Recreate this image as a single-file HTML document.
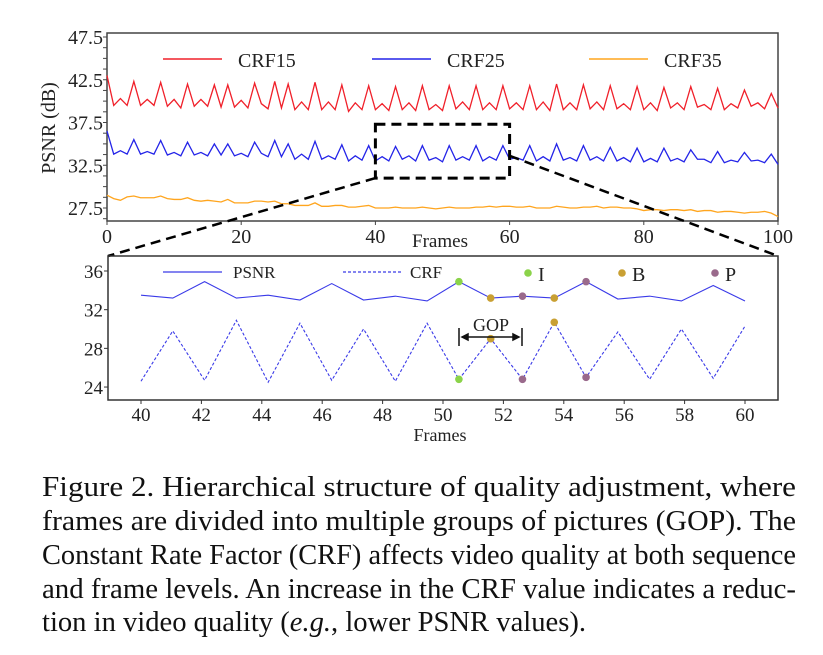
<!DOCTYPE html>
<html><head><meta charset="utf-8"><style>
html,body{margin:0;padding:0;background:#fff;}
svg{display:block;font-family:"Liberation Serif",serif;}
</style></head><body>
<svg id="fig" width="823" height="655" viewBox="0 0 823 655">
<g id="top"></g>
<g id="zoomlines"></g>
<g id="bottom"></g>
<g font-size="28" fill="#111">
<text x="42" y="496" textLength="754" lengthAdjust="spacingAndGlyphs">Figure 2.  Hierarchical structure of quality adjustment, where</text>
<text x="42" y="530" textLength="754" lengthAdjust="spacingAndGlyphs">frames are divided into multiple groups of pictures (GOP). The</text>
<text x="42" y="564" textLength="754" lengthAdjust="spacingAndGlyphs">Constant Rate Factor (CRF) affects video quality at both sequence</text>
<text x="42" y="598" textLength="754" lengthAdjust="spacingAndGlyphs">and frame levels. An increase in the CRF value indicates a reduc-</text>
<text x="42" y="631" textLength="544" lengthAdjust="spacingAndGlyphs">tion in video quality (<tspan font-style="italic">e.g.</tspan>, lower PSNR values).</text>
</g>
</svg>
<script>
const crf15 = [43.0,39.5,40.3,39.5,42.3,39.5,40.2,39.5,42.2,39.4,40.2,39.2,42.0,39.4,40.2,39.4,41.9,39.3,41.9,39.3,40.1,39.2,42.1,39.7,39.1,42.3,39.2,42.0,39.0,39.9,39.0,42.2,39.0,39.9,39.0,41.9,38.8,39.8,39.0,41.8,39.0,39.7,38.9,41.7,39.0,39.8,38.9,41.8,39.0,39.6,38.9,41.8,39.1,39.9,39.0,41.8,39.0,39.8,39.0,41.8,39.1,39.8,39.0,41.8,39.0,39.9,38.9,42.0,39.0,39.8,39.0,41.9,39.1,39.9,39.0,41.8,39.1,39.7,39.0,41.7,39.0,39.8,38.9,41.6,39.2,39.8,39.0,41.7,39.3,39.6,39.0,41.5,39.0,39.7,39.2,41.3,39.4,39.8,39.1,40.9,39.2];
const crf25 = [36.5,33.8,34.2,33.8,35.5,33.8,34.1,33.8,35.4,33.7,34.0,33.6,35.2,33.7,34.0,33.6,35.0,33.7,35.0,33.6,33.9,33.5,35.2,33.9,33.5,35.4,33.5,35.0,33.2,33.8,33.2,35.3,33.2,33.6,33.2,34.9,33.0,33.6,33.1,34.8,33.0,33.5,33.0,34.7,33.2,33.6,33.0,34.8,33.1,33.4,32.9,34.8,33.1,33.5,33.1,34.8,33.0,33.5,33.1,34.8,33.2,33.4,33.1,34.8,33.0,33.5,33.0,35.0,33.1,33.4,33.0,34.8,33.1,33.5,33.0,34.6,33.0,33.4,32.9,34.5,32.9,33.3,32.9,34.5,33.0,33.3,32.9,34.3,33.2,33.2,32.8,34.1,32.8,33.1,32.9,34.0,33.0,33.1,32.8,33.8,32.6];
const crf35 = [29.0,28.6,28.4,28.8,28.9,28.7,28.7,28.7,28.9,28.6,28.5,28.5,28.7,28.4,28.3,28.4,28.3,28.2,28.5,28.1,28.1,28.1,28.3,28.3,28.2,28.3,28.0,28.0,27.8,27.8,27.8,28.1,27.7,27.7,27.8,27.8,27.6,27.6,27.7,27.8,27.5,27.5,27.5,27.6,27.5,27.5,27.5,27.6,27.5,27.4,27.5,27.6,27.5,27.5,27.5,27.6,27.6,27.7,27.6,27.7,27.7,27.6,27.6,27.7,27.5,27.5,27.5,27.7,27.6,27.5,27.5,27.6,27.6,27.7,27.5,27.6,27.6,27.5,27.5,27.4,27.2,27.3,27.3,27.2,27.3,27.3,27.2,27.3,27.1,27.2,27.2,27.0,27.1,27.1,27.0,26.9,27.0,27.0,27.1,26.9,26.5];
const topYTicks = [47.5,42.5,37.5,32.5,27.5];
const topXTicks = [0,20,40,60,80,100];

const zoomPsnr = [33.5,33.2,34.9,33.2,33.5,33.0,34.7,33.0,33.4,32.9,34.9,33.2,33.4,33.2,34.9,33.1,33.4,32.9,34.5,32.9];
const zoomCrf = [24.6,29.8,24.7,30.9,24.5,30.6,24.7,30.0,24.6,30.6,24.8,29.0,24.8,30.7,25.0,29.7,24.8,30.0,24.9,30.3];
const frameTypeIdx = [10,11,12,13,14];
const frameTypes = ['I','B','P','B','P'];
const botYTicks = [36,32,28,24];
const botXTicks = [40,42,44,46,48,50,52,54,56,58,60];

const NS='http://www.w3.org/2000/svg';
function mk(parent,tag,attrs){const e=document.createElementNS(NS,tag);for(const k in attrs)e.setAttribute(k,attrs[k]);parent.appendChild(e);return e;}
const typeColor={I:'#8bd34a',B:'#c9a033',P:'#9a6a8c'};

// top chart
const T=document.getElementById('top');
const tx=v=>107+v*6.71, ty=v=>37+(47.5-v)*8.55;
const tb=mk(T,'rect',{x:107,y:33,width:671,height:188,fill:'none',stroke:'#444','stroke-width':1.5});


for(let v=47.5;v>=26;v-=1.25){const t=mk(T,'line',{x1:103,x2:107,y1:ty(v),y2:ty(v),stroke:'#444'});}
topYTicks.forEach(v=>{const t=mk(T,'text',{x:103,y:ty(v)+7,'text-anchor':'end','font-size':20,fill:'#222'});t.textContent=v.toFixed(1);});
topXTicks.forEach(v=>{mk(T,'line',{x1:tx(v),x2:tx(v),y1:221,y2:225,stroke:'#444'});const t=mk(T,'text',{x:tx(v),y:243,'text-anchor':'middle','font-size':20,fill:'#222'});t.textContent=v;});
let yl=mk(T,'text',{x:0,y:0,transform:'translate(55,128) rotate(-90)','text-anchor':'middle','font-size':20,fill:'#222'});yl.textContent='PSNR (dB)';

let xl=mk(T,'text',{x:440,y:247,'text-anchor':'middle','font-size':19,fill:'#222'});xl.textContent='Frames';

[[crf15,'#f0202a','CRF15',163],[crf25,'#2424e8','CRF25',372],[crf35,'#ffa51e','CRF35',589]].forEach(([d,c,n,lx])=>{
  const p=mk(T,'polyline',{points:d.map((v,i)=>tx(i)+','+ty(v)).join(' '),fill:'none',stroke:c,'stroke-width':1.3});
  
  const l=mk(T,'line',{x1:lx,x2:lx+59,y1:59,y2:59,stroke:c,'stroke-width':1.5});
  
  const t=mk(T,'text',{x:lx+75,y:67,'font-size':20,fill:'#222'});t.textContent=n;
  
});
// zoom box
const Z=document.getElementById('zoomlines');
const zr=mk(Z,'rect',{x:tx(40),y:ty(37.3),width:tx(60)-tx(40),height:ty(31)-ty(37.3),fill:'none',stroke:'#000','stroke-width':3,'stroke-dasharray':'10,6'});

mk(Z,'line',{x1:tx(40),y1:ty(31),x2:108,y2:256,stroke:'#000','stroke-width':2.5,'stroke-dasharray':'10,6'});
mk(Z,'line',{x1:tx(60),y1:ty(33.6),x2:778,y2:256,stroke:'#000','stroke-width':2.5,'stroke-dasharray':'10,6'});

// bottom chart
const B=document.getElementById('bottom');
const bx=f=>141+(f-40)*30.2, by=v=>271+(36-v)*9.67;
const ix=i=>bx(40+i*20/19);
const bb=mk(B,'rect',{x:108,y:256,width:670,height:144,fill:'none',stroke:'#333','stroke-width':1.5});

botYTicks.forEach(v=>{mk(B,'line',{x1:104,x2:108,y1:by(v),y2:by(v),stroke:'#333'});const t=mk(B,'text',{x:103,y:by(v)+7,'text-anchor':'end','font-size':19,fill:'#222'});t.textContent=v;});
botXTicks.forEach(v=>{mk(B,'line',{x1:bx(v),x2:bx(v),y1:400,y2:404,stroke:'#333'});const t=mk(B,'text',{x:bx(v),y:421,'text-anchor':'middle','font-size':19,fill:'#222'});t.textContent=v;});
let bxl=mk(B,'text',{x:440,y:441,'text-anchor':'middle','font-size':18,fill:'#222'});bxl.textContent='Frames';

const pp=mk(B,'polyline',{points:zoomPsnr.map((v,i)=>ix(i)+','+by(v)).join(' '),fill:'none',stroke:'#3a3ae8','stroke-width':1.1});

const cp=mk(B,'polyline',{points:zoomCrf.map((v,i)=>ix(i)+','+by(v)).join(' '),fill:'none',stroke:'#3a3ae8','stroke-width':1.1,'stroke-dasharray':'3,2'});

frameTypeIdx.forEach((idx,k)=>{const c=typeColor[frameTypes[k]];
  [zoomPsnr[idx],zoomCrf[idx]].forEach(v=>{const d=mk(B,'circle',{cx:ix(idx),cy:by(v),r:3.8,fill:c});});});
// legend
mk(B,'line',{x1:163,x2:222,y1:272,y2:272,stroke:'#3a3ae8','stroke-width':1.3});
let t1=mk(B,'text',{x:233,y:278,'font-size':17,fill:'#222'});t1.textContent='PSNR';
mk(B,'line',{x1:343,x2:402,y1:272,y2:272,stroke:'#3a3ae8','stroke-width':1.3,'stroke-dasharray':'3,2'});
let t2=mk(B,'text',{x:410,y:278,'font-size':17,fill:'#222'});t2.textContent='CRF';
[['I',528],['B',622],['P',715]].forEach(([n,x])=>{mk(B,'circle',{cx:x,cy:273,r:3.8,fill:typeColor[n]});const t=mk(B,'text',{x:x+10,y:281,'font-size':20,fill:'#222'});t.textContent=n;});
// GOP annotation
const g=mk(B,'g',{stroke:'#111','stroke-width':1.5});

mk(g,'line',{x1:459,x2:459,y1:328,y2:346});mk(g,'line',{x1:522,x2:522,y1:328,y2:346});
mk(g,'line',{x1:462,x2:519,y1:337,y2:337});
mk(g,'path',{d:'M462,337 l6,-3 v6 z M519,337 l-6,-3 v6 z',fill:'#111'});
let gt=mk(B,'text',{x:491,y:331,'text-anchor':'middle','font-size':18,fill:'#222'});gt.textContent='GOP';

</script>
</body></html>
